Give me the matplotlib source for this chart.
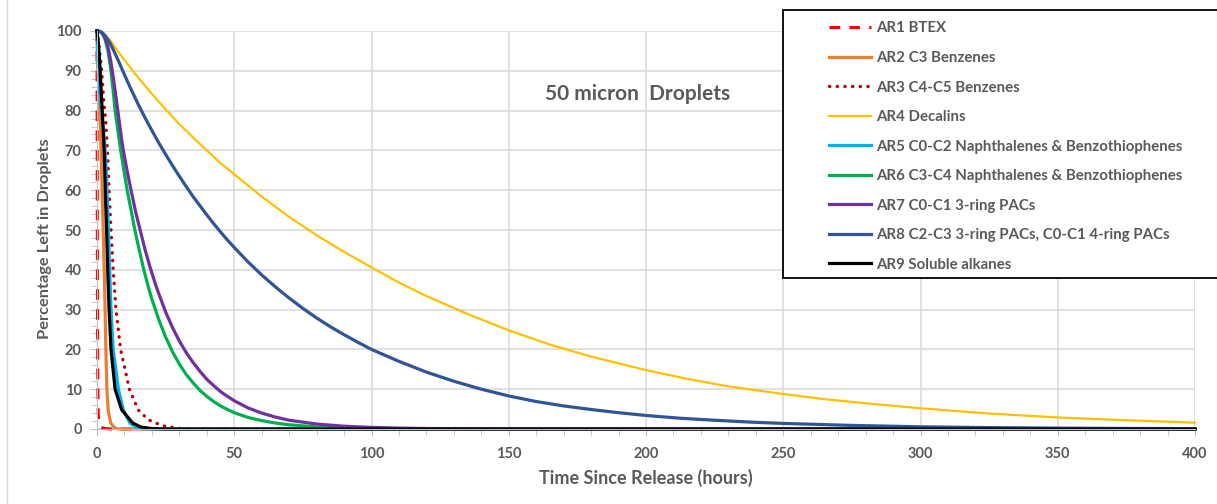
import matplotlib
matplotlib.use('Agg')
import matplotlib.pyplot as plt
from matplotlib.ticker import MultipleLocator
from matplotlib.patches import Rectangle
from matplotlib.lines import Line2D

# ---------------- data (hours, % left) ----------------
ar1_t = [0, 0.05, 0.1, 0.15, 0.2, 0.3, 0.4, 0.6, 1.0, 2.0, 3.0, 5.0, 400]
ar1_v = [100, 80, 60, 40, 25, 12, 5, 2, 0.8, 0.3, 0.1, 0, 0]

ar2_t = [0, 0.3, 0.7, 1.1, 1.5, 1.8, 2.1, 2.4, 2.7, 3.0, 3.3, 3.6, 4.1, 5.0, 6.5, 8, 400]
ar2_v = [100, 93, 86, 78, 70, 62, 54, 46, 38, 28, 18, 10, 4.5, 1.5, 0.2, 0, 0]

ar3_t = [0, 0.8, 1.7, 2.5, 3.2, 3.8, 4.4, 5.1, 5.9, 6.9, 8.6, 10.2, 11.8, 15, 18.7, 24, 30, 35, 400]
ar3_v = [100, 96, 90, 82, 77, 70, 60, 50, 40, 30, 20, 15, 10, 4.8, 2.3, 0.8, 0.15, 0, 0]

ar4_t = [0, 2.5, 5, 7.5, 10, 15, 20, 25, 30, 37.5, 45, 50, 60, 70, 80, 90, 100, 110, 120,
         135, 150, 165, 180, 200, 215, 230, 250, 265, 275, 300, 325, 350, 375, 400]
ar4_v = [100, 99.4, 97.5, 95, 92.7, 88.3, 84.2, 80.3, 76.6, 71.6, 66.8, 64, 58.4, 53.3,
         48.7, 44.5, 40.6, 36.8, 33.4, 28.9, 24.8, 21.2, 18.2, 14.8, 12.6, 10.7, 8.8, 7.5,
         6.8, 5.2, 3.9, 2.9, 2.2, 1.6]

ar5_t = [0, 0.3, 0.8, 1.6, 2.8, 3.4, 3.9, 4.3, 4.7, 5.1, 5.9, 7.8, 9.6, 12, 14, 17, 400]
ar5_v = [100, 92, 86, 80, 72, 64, 55, 47, 38, 30, 20, 10, 4.8, 1.5, 0.5, 0, 0]

ar6_t = [0, 1, 2, 3, 4, 5, 5.8, 6.6, 7.6, 8.6, 9.8, 11, 12.4, 13.8, 15, 16.9, 18.7, 20,
         22.5, 25, 27.5, 30, 32.5, 35, 37.5, 40, 42.5, 45, 47.5, 50, 55, 60, 65, 70, 80,
         90, 100, 120, 140, 400]
ar6_v = [100, 99.9, 99.3, 97.8, 95, 90.5, 85.5, 80, 75, 70.2, 65, 60, 55, 50, 46.2, 40.4,
         35.7, 32.6, 27.5, 23.1, 19.4, 16.3, 13.7, 11.6, 9.7, 8.2, 6.9, 5.8, 4.9, 4.1, 2.9,
         2.1, 1.5, 1.05, 0.53, 0.27, 0.13, 0.03, 0, 0]

ar7_t = [0, 1, 2, 3, 4, 5, 6, 7, 8, 9, 9.6, 11, 12.4, 14, 15.7, 17.5, 19.3, 21.7, 25, 27.5,
         30, 32.5, 35, 37.5, 40, 42.5, 45, 47.5, 50, 55, 60, 65, 70, 80, 90, 100, 110, 120,
         140, 160, 400]
ar7_v = [100, 99.9, 99.4, 98.2, 96, 92.5, 88, 83, 77.8, 72.6, 70, 64.8, 60, 54.8, 50, 45.1,
         40.7, 35.5, 29.4, 25.5, 22.1, 19.2, 16.7, 14.5, 12.5, 10.9, 9.4, 8.2, 7.1, 5.3, 4.0,
         3.0, 2.2, 1.25, 0.7, 0.4, 0.22, 0.12, 0.04, 0, 0]

ar8_t = [0, 1, 2, 3, 4, 5, 6, 8, 10, 12.5, 15, 17.5, 20, 22.5, 25, 27.5, 30, 32.5, 35,
         37.5, 40, 42.5, 45, 47.5, 50, 55, 60, 65, 70, 75, 80, 85, 90, 95, 100, 110, 120,
         130, 140, 150, 160, 170, 180, 190, 200, 212.5, 225, 237.5, 250, 275, 300, 325,
         350, 375, 400]
ar8_v = [100, 99.9, 99.5, 98.8, 97.8, 96.6, 95.2, 92.2, 89.0, 85.2, 81.6, 78.2, 75, 71.9,
         69, 66.2, 63.5, 60.9, 58.4, 56.1, 53.8, 51.6, 49.5, 47.5, 45.6, 42, 38.7, 35.7,
         32.9, 30.3, 27.9, 25.7, 23.7, 21.8, 20.0, 17, 14.3, 12.0, 10.0, 8.3, 6.9, 5.8, 4.9,
         4.1, 3.4, 2.7, 2.2, 1.75, 1.4, 0.9, 0.55, 0.35, 0.22, 0.14, 0.08]

ar9_t = [0, 0.5, 1.0, 1.6, 2.2, 2.7, 3.1, 3.5, 3.9, 4.4, 5.1, 6.6, 9.0, 13, 16, 20, 25, 400]
ar9_v = [100, 97, 92, 84, 76, 68, 58, 50, 40, 30, 20, 10, 4.8, 1.5, 0.5, 0.1, 0, 0]

labels = ['AR1 BTEX', 'AR2 C3 Benzenes', 'AR3 C4-C5 Benzenes', 'AR4 Decalins',
          'AR5 C0-C2 Naphthalenes & Benzothiophenes',
          'AR6 C3-C4 Naphthalenes & Benzothiophenes',
          'AR7 C0-C1 3-ring PACs',
          'AR8 C2-C3 3-ring PACs, C0-C1 4-ring PACs',
          'AR9 Soluble alkanes']

# ---------------- figure ----------------
plt.rcParams['font.family'] = ['Lato', 'DejaVu Sans']
txt = '#595959'

fig = plt.figure(figsize=(12.17, 5.04), dpi=100)
ax = fig.add_axes([97/1217, 1-429/504, (1195-97)/1217, (429-31)/504])

series = [(ar1_t, ar1_v), (ar2_t, ar2_v), (ar3_t, ar3_v), (ar4_t, ar4_v), (ar5_t, ar5_v),
          (ar6_t, ar6_v), (ar7_t, ar7_v), (ar8_t, ar8_v), (ar9_t, ar9_v)]
styles = [dict(color='#FF0000', lw=2.2, ls=(0, (3.5, 3))),
          dict(color='#ED7D31', lw=2.3),
          dict(color='#C00000', lw=2.4, ls=(0, (0.1, 2.2)), dash_capstyle='round'),
          dict(color='#FFC000', lw=1.6),
          dict(color='#00B0F0', lw=2.3),
          dict(color='#00B050', lw=2.3),
          dict(color='#7030A0', lw=2.3),
          dict(color='#2F5597', lw=2.3),
          dict(color='#000000', lw=2.3)]

for (t, v), st, lab in zip(series, styles, labels):
    ax.plot(t, v, label=lab, clip_on=False, **st)

ax.set_xlim(0, 400)
ax.set_ylim(0, 100)
ax.xaxis.set_major_locator(MultipleLocator(50))
ax.xaxis.set_minor_locator(MultipleLocator(10))
ax.yaxis.set_major_locator(MultipleLocator(10))
ax.yaxis.set_minor_locator(MultipleLocator(2))
ax.grid(True, which='major', color='#D9D9D9', lw=1.1)
ax.set_axisbelow(True)

for s in ['top', 'right']:
    ax.spines[s].set_visible(False)
for s in ['left', 'bottom']:
    ax.spines[s].set_color('#BFBFBF')
ax.tick_params(which='major', length=5, color='#BFBFBF', labelcolor=txt, labelsize=10.5)
ax.tick_params(which='minor', length=4, color='#BFBFBF')
ax.tick_params(axis='x', pad=8)
ax.tick_params(axis='y', pad=6)
for lb in ax.get_xticklabels() + ax.get_yticklabels():
    lb.set_fontweight('bold')

ax.set_xlabel('Time Since Release (hours)', fontsize=13, fontweight='bold', color=txt, labelpad=6)
ax.set_ylabel('Percentage Left in Droplets', fontsize=11.8, fontweight='bold', color=txt)
ax.yaxis.set_label_coords(-0.041, 0.477)
ax.text(197, 84.2, '50 micron  Droplets', ha='center', va='center', fontsize=15,
        fontweight='bold', color=txt)

# legend box (runs off the right edge in the reference)
fig.patches.append(Rectangle((783/1217, 1-278/504), (1240-783)/1217, (278-10)/504,
                             transform=fig.transFigure, facecolor='white', edgecolor='black',
                             lw=1.3, zorder=3))
handles = [Line2D([], [], **st) for st in styles]
leg = fig.legend(handles, labels, loc='upper left', bbox_to_anchor=(829/1217, 1-21.5/504),
                 bbox_transform=fig.transFigure, frameon=False, borderaxespad=0, borderpad=0,
                 handlelength=2.8, handletextpad=0.33, labelspacing=1.03, fontsize=10.85)
leg.set_zorder(4)
for t in leg.get_texts():
    t.set_color(txt)
    t.set_fontweight('bold')

# faint chart-area edge on the left
fig.add_artist(Line2D([7/1217, 7/1217], [0, 1], transform=fig.transFigure, color='#D9D9D9', lw=1))

fig.savefig('out.png', dpi=100)
